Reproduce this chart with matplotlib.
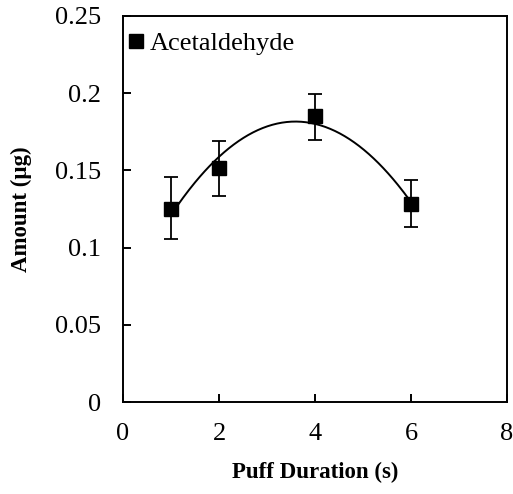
import numpy as np
import matplotlib
matplotlib.use("Agg")
import matplotlib.pyplot as plt
from matplotlib.lines import Line2D

plt.rcParams['font.family'] = ['Liberation Serif', 'DejaVu Serif']

duration = [1, 2, 4, 6]
amount = [0.125, 0.1515, 0.185, 0.128]
err_low = [0.1055, 0.1335, 0.170, 0.1135]
err_high = [0.1455, 0.169, 0.1995, 0.1435]

fig = plt.figure(figsize=(5.13, 4.94), dpi=100)
ax = fig.add_axes([123/513, 1 - 402/494, (507-123)/513, (402-16)/494])

yerr = [np.array(amount) - np.array(err_low), np.array(err_high) - np.array(amount)]
ax.errorbar(duration, amount, yerr=yerr, fmt='s', color='black', ms=9.5,
            ecolor='black', elinewidth=1.3, capsize=5, capthick=1.3, zorder=3)

coef = np.polyfit(duration, amount, 2)
xs = np.linspace(min(duration), max(duration), 200)
ax.plot(xs, np.polyval(coef, xs), color='black', lw=1.4, zorder=2)

ax.set_xlim(0, 8)
ax.set_ylim(0, 0.25)
ax.set_xticks([0, 2, 4, 6, 8])
ax.set_yticks([0, 0.05, 0.1, 0.15, 0.2, 0.25])
ax.set_yticklabels(['0', '0.05', '0.1', '0.15', '0.2', '0.25'])
ax.tick_params(direction='in', length=6, width=1.4, labelsize=19)
ax.tick_params(axis='x', pad=15)
ax.tick_params(axis='y', pad=16)
for s in ax.spines.values():
    s.set_linewidth(1.4)

ax.set_xlabel('Puff Duration (s)', fontsize=16.5, fontweight='bold', labelpad=12)
ax.set_ylabel('Amount (µg)', fontsize=16.5, fontweight='bold', labelpad=16)

handle = Line2D([], [], marker='s', color='black', ls='none', ms=9.5)
ax.legend([handle], ['Acetaldehyde'], loc='upper left', bbox_to_anchor=(0.0065, 0.9585),
          frameon=False, fontsize=19, handletextpad=0.1, handlelength=0.8,
          borderaxespad=0, borderpad=0)

fig.savefig('out.png', dpi=100)
